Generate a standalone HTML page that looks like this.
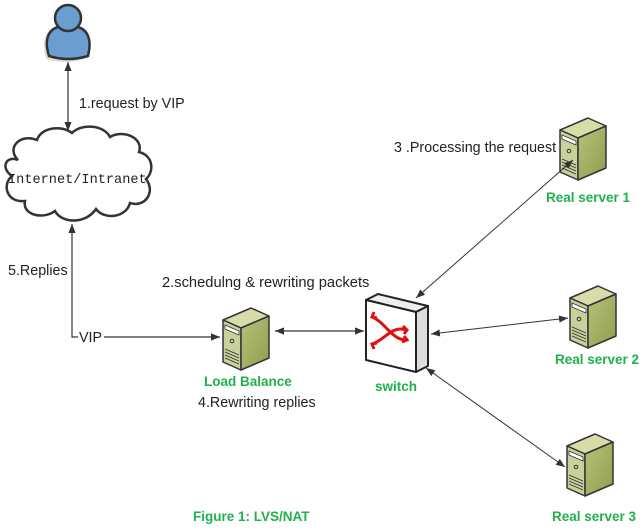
<!DOCTYPE html>
<html><head><meta charset="utf-8"><style>
html,body{margin:0;padding:0;background:#fff;width:642px;height:530px;overflow:hidden}
svg{display:block}
text{font-family:"Liberation Sans",sans-serif;font-size:14.3px;fill:#222}
.g{fill:#1fb14a;font-weight:bold;font-size:13.5px}
</style></head><body>
<svg width="642" height="530" viewBox="0 0 642 530" xmlns="http://www.w3.org/2000/svg">
<defs>
<marker id="a" viewBox="0 0 10 10" refX="10" refY="5" markerWidth="9" markerHeight="9" orient="auto-start-reverse" markerUnits="userSpaceOnUse"><path d="M0,1 L10,5 L0,9 z" fill="#333"/></marker>
<linearGradient id="sg" x1="0" y1="0" x2="1" y2="1"><stop offset="0" stop-color="#b6c27c"/><stop offset="1" stop-color="#8e9e4c"/></linearGradient>
<g id="srv">
 <polygon points="0,12 28,0 46,8 18,20" fill="#d8dca8" stroke="#333" stroke-width="1.5" stroke-linejoin="round"/>
 <polygon points="0,12 18,20 18,62 0,54" fill="#c9d09a" stroke="#333" stroke-width="1.5" stroke-linejoin="round"/>
 <polygon points="18,20 46,8 46,50 18,62" fill="url(#sg)" stroke="#333" stroke-width="1.5" stroke-linejoin="round"/>
 <polygon points="2,17 16,23 16,27 2,21" fill="#fff" stroke="#333" stroke-width="0.8"/>
 <circle cx="9" cy="33" r="1.8" fill="none" stroke="#333"/>
 <path d="M2,41 L16,47 M2,44 L16,50 M2,47 L16,53 M2,50 L16,56" stroke="#333" stroke-width="0.9"/>
</g>
</defs>

<!-- person -->
<path d="M49,58 C44,40 48,30 58,27 Q68,32 78,27 C88,30 92,40 88,58 Q68,64 49,58 Z" fill="#bbb" opacity="0.5" transform="translate(-3,1)"/>
<path d="M49,56 C44,40 48,30 58,27 Q68,32 78,27 C88,30 92,40 88,56 Q68,62 49,56 Z" fill="#6a9ed0" stroke="#333" stroke-width="2.5"/>
<circle cx="68" cy="18" r="13" fill="#6a9ed0" stroke="#333" stroke-width="2.5"/>

<line x1="68" y1="62" x2="68" y2="131" stroke="#333" stroke-width="1.2" marker-start="url(#a)" marker-end="url(#a)"/>
<text x="79" y="108">1.request  by VIP</text>

<!-- cloud -->
<path d="M18,160 C6,148 20,133 37,140 C41,127 62,125 72,133 C82,123 104,125 110,137 C123,129 144,138 139,152 C154,156 154,172 146,179 C156,192 145,208 130,203 C126,218 104,220 96,209 C86,224 62,224 55,211 C43,220 22,215 25,201 C6,203 2,184 12,176 C0,168 6,155 18,160 Z" fill="#fff" stroke="#333" stroke-width="2.5"/>
<text x="8" y="183" style="font-family:'Liberation Mono',monospace;font-size:13.6px">Internet/Intranet</text>

<polyline points="72,224 72,337 78,337" fill="none" stroke="#333" stroke-width="1.2" marker-start="url(#a)"/>
<text x="79" y="342">VIP</text>
<line x1="104" y1="337" x2="220" y2="337" stroke="#333" stroke-width="1.2" marker-end="url(#a)"/>
<text x="8" y="275">5.Replies</text>
<text x="162" y="287" style="font-size:14.7px">2.schedulng &amp; rewriting packets</text>

<use href="#srv" x="223" y="308"/>
<text x="204" y="386" class="g">Load Balance</text>
<text x="198" y="407">4.Rewriting replies</text>

<line x1="275" y1="331" x2="364" y2="331" stroke="#333" stroke-width="1.2" marker-start="url(#a)" marker-end="url(#a)"/>

<!-- switch -->
<polygon points="366,300 378,294 428,306 416,312" fill="#eee" stroke="#222" stroke-width="2" stroke-linejoin="round"/>
<polygon points="416,312 428,306 428,366 416,372" fill="#ddd" stroke="#222" stroke-width="2" stroke-linejoin="round"/>
<polygon points="366,300 416,312 416,372 366,360" fill="#fff" stroke="#222" stroke-width="2" stroke-linejoin="round"/>
<path d="M372,317 C385,322 392,340 406,340 M372,344 C385,340 392,325 406,330 M374,312 l-2,5 5,1 M404,336 l3,4 -5,2 M374,349 l-2,-5 5,-1 M403,326 l4,4 -3,4" stroke="#e01010" stroke-width="3" fill="none"/>
<text x="375" y="391" class="g">switch</text>

<!-- servers -->
<use href="#srv" x="560" y="118"/>
<text x="394" y="152">3 .Processing the request</text>
<text x="546" y="202" class="g">Real server 1</text>
<line x1="416" y1="298" x2="573" y2="160" stroke="#333" stroke-width="1" marker-start="url(#a)" marker-end="url(#a)"/>

<use href="#srv" x="570" y="286"/>
<text x="555" y="364" class="g">Real server 2</text>
<line x1="431" y1="334" x2="568" y2="318" stroke="#333" stroke-width="1" marker-start="url(#a)" marker-end="url(#a)"/>

<use href="#srv" x="567" y="434"/>
<text x="552" y="521" class="g">Real server 3</text>
<line x1="426" y1="368" x2="565" y2="467" stroke="#333" stroke-width="1" marker-start="url(#a)" marker-end="url(#a)"/>

<text x="193" y="521" class="g">Figure 1: LVS/NAT</text>
</svg>
</body></html>
